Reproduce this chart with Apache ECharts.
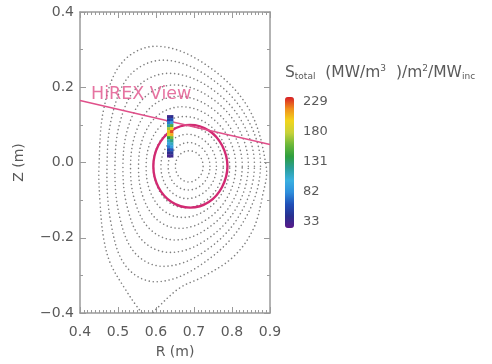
<!DOCTYPE html>
<html>
<head>
<meta charset="utf-8">
<script src="https://cdn.jsdelivr.net/npm/echarts@6/dist/echarts.min.js"></script>
<style>
  html, body { margin: 0; padding: 0; background: #fff; }
  #chart { width: 492px; height: 364px; }
</style>
</head>
<body>
<div id="chart"></div>
<script>
// Axis ranges and colour-bar ticks
const rRange = [0.4, 0.9];
const zRange = [-0.4, 0.4];
const colorbarTicks = [33, 82, 131, 180, 229];
const colorbarRange = [23, 237];

// Closed flux surfaces, inner to outer, as [R, Z] points (m)
const surface2 = [[0.724,-0.010],[0.719,0.011],[0.706,0.026],[0.687,0.031],[0.669,0.026],[0.656,0.011],[0.651,-0.010],[0.656,-0.031],[0.669,-0.046],[0.687,-0.052],[0.705,-0.046],[0.719,-0.031]];
const surface3 = [[0.742,-0.010],[0.734,0.021],[0.714,0.044],[0.686,0.053],[0.659,0.044],[0.639,0.021],[0.632,-0.010],[0.639,-0.042],[0.658,-0.065],[0.685,-0.073],[0.713,-0.065],[0.734,-0.042]];
const surface4 = [[0.759,-0.010],[0.749,0.032],[0.721,0.063],[0.683,0.075],[0.647,0.063],[0.622,0.032],[0.613,-0.010],[0.622,-0.053],[0.647,-0.084],[0.682,-0.096],[0.720,-0.084],[0.749,-0.053]];
const surface5 = [[0.777,-0.010],[0.763,0.044],[0.727,0.083],[0.680,0.098],[0.635,0.083],[0.604,0.044],[0.593,-0.010],[0.604,-0.065],[0.634,-0.106],[0.678,-0.120],[0.725,-0.106],[0.763,-0.065]];
const surface6 = [[0.794,-0.010],[0.776,0.056],[0.732,0.105],[0.674,0.122],[0.622,0.105],[0.586,0.056],[0.574,-0.010],[0.585,-0.078],[0.620,-0.128],[0.671,-0.146],[0.729,-0.128],[0.776,-0.078]];
const surface7 = [[0.810,-0.010],[0.789,0.069],[0.735,0.127],[0.668,0.148],[0.607,0.127],[0.567,0.069],[0.554,-0.010],[0.566,-0.092],[0.604,-0.153],[0.662,-0.175],[0.731,-0.153],[0.788,-0.092]];
const surface8 = [[0.827,-0.010],[0.801,0.083],[0.737,0.151],[0.659,0.176],[0.591,0.151],[0.548,0.083],[0.533,-0.010],[0.546,-0.108],[0.586,-0.179],[0.651,-0.206],[0.730,-0.179],[0.799,-0.108]];
const surface9 = [[0.843,-0.010],[0.813,0.098],[0.737,0.177],[0.648,0.206],[0.574,0.177],[0.528,0.098],[0.513,-0.010],[0.526,-0.125],[0.566,-0.209],[0.637,-0.239],[0.727,-0.209],[0.809,-0.125]];
const surface10 = [[0.859,-0.010],[0.823,0.114],[0.734,0.204],[0.634,0.237],[0.554,0.204],[0.507,0.114],[0.492,-0.010],[0.504,-0.143],[0.545,-0.241],[0.619,-0.276],[0.721,-0.241],[0.818,-0.143]];
const surface11 = [[0.875,-0.010],[0.832,0.131],[0.729,0.234],[0.618,0.272],[0.533,0.234],[0.486,0.131],[0.471,-0.010],[0.482,-0.164],[0.521,-0.276],[0.598,-0.317],[0.712,-0.276],[0.826,-0.164]];

// Separatrix with its two divertor legs, from the X-point round and back
const separatrix = [[0.578,-0.415],[0.553,-0.387],[0.515,-0.330],[0.480,-0.268],[0.462,-0.200],[0.453,-0.110],[0.450,-0.010],[0.464,0.150],[0.511,0.266],[0.599,0.309],[0.722,0.266],[0.840,0.150],[0.890,-0.010],[0.880,-0.090],[0.855,-0.179],[0.803,-0.251],[0.725,-0.303],[0.663,-0.333],[0.603,-0.387],[0.578,-0.415]];

// q = 1 surface
const qOneSurface = [[0.788,-0.010],[0.774,0.045],[0.739,0.085],[0.690,0.100],[0.641,0.085],[0.606,0.045],[0.593,-0.010],[0.606,-0.065],[0.641,-0.105],[0.690,-0.120],[0.739,-0.105],[0.774,-0.065]];

// HiREX sight line end points and label anchor
const hirexView = [[0.40, 0.165], [0.90, 0.048]];
const hirexLabelAt = [0.429, 0.180];

// Emissivity cells: two R columns, Z cell centres, values
const cellR = [0.633, 0.641];
const cellZ = [0.122, 0.114, 0.106, 0.098, 0.090, 0.082, 0.074, 0.066, 0.058, 0.050, 0.042, 0.034, 0.026, 0.018];
const cellValuesA = [35, 50, 75, 120, 170, 205, 190, 140, 110, 95, 75, 55, 40, 30];
const cellValuesB = [40, 60, 90, 150, 200, 229, 210, 160, 125, 110, 90, 65, 45, 35];
const cellDR = 0.008, cellDZ = 0.008;

const rainbow = ['#5a1a8a', '#28308f', '#2050b8', '#2e8fdc', '#3ab0e0', '#2a9e9a',
                 '#2e9e3e', '#6cb83a', '#c8d23a', '#f2d51c', '#f0901c', '#d81e26'];

const FONT = 'DejaVu Sans';
const TEXT = '#5a5a5a';
const FRAME = '#9a9a9a';

const closedSurfaces = [surface2, surface3, surface4, surface5, surface6, surface7,
                        surface8, surface9, surface10, surface11];

const dotted = { stroke: '#808080', lineWidth: 1.6, lineDash: [0.01, 4], lineCap: 'round', fill: 'none' };

function curveSeries(points, style, closed, z) {
  return {
    type: 'custom', coordinateSystem: 'cartesian2d', xAxisIndex: 0, yAxisIndex: 0,
    clip: true, silent: true, z: z,
    data: points, encode: { x: 0, y: 1 },
    renderItem: function (params, api) {
      if (params.dataIndex !== 0) return null;
      return {
        type: closed ? 'polygon' : 'polyline',
        shape: { points: points.map(function (p) { return api.coord(p); }), smooth: 0.36 },
        style: style
      };
    }
  };
}

const cells = [];
cellZ.forEach(function (z, i) {
  cells.push([cellR[0], z, cellValuesA[i]]);
  cells.push([cellR[1], z, cellValuesB[i]]);
});

const series = [];
closedSurfaces.forEach(function (s) { series.push(curveSeries(s, dotted, true, 2)); });
series.push(curveSeries(separatrix, dotted, false, 2));
series.push(curveSeries(qOneSurface, { stroke: '#d22a72', lineWidth: 2.4, fill: 'none' }, true, 4));
series.push({
  type: 'line', xAxisIndex: 0, yAxisIndex: 0, data: hirexView, symbol: 'none', z: 4,
  lineStyle: { color: '#e0508a', width: 1.5 }, silent: true
});
series.push({
  type: 'scatter', xAxisIndex: 0, yAxisIndex: 0, data: [hirexLabelAt], symbolSize: 0, z: 5,
  label: { show: true, position: 'right', distance: 0, formatter: 'HiREX View',
           color: '#e0508a', fontSize: 17.5, fontFamily: FONT }, silent: true
});
const cellSeriesIndex = series.length;
series.push({
  type: 'custom', coordinateSystem: 'cartesian2d', xAxisIndex: 0, yAxisIndex: 0, z: 6,
  data: cells, encode: { x: 0, y: 1 }, silent: true,
  renderItem: function (params, api) {
    const c = api.coord([api.value(0) - cellDR / 2, api.value(1) + cellDZ / 2]);
    const s = api.size([cellDR, cellDZ]);
    return { type: 'rect', shape: { x: c[0], y: c[1], width: s[0] + 0.3, height: s[1] + 0.3 },
             style: { fill: api.visual('color') } };
  }
});

const tickFmt = function (v) { return v.toFixed(1).replace('-', '\u2212'); };

const frameAxis = {
  axisLine: { show: true, onZero: false, lineStyle: { color: FRAME, width: 1.5 } },
  splitLine: { show: false }
};

const option = {
  animation: false,
  backgroundColor: '#fff',
  title: {
    left: 285, top: 64, padding: 0,
    text: '{m|S}{sub|total}{m|  (MW/m}{sup|3}{m|  )/m}{sup|2}{m|/MW}{sub|inc}',
    textStyle: {
      fontWeight: 'normal',
      rich: {
        m: { fontSize: 15.5, fontFamily: FONT, fontWeight: 'normal', color: TEXT, lineHeight: 17 },
        sub: { fontSize: 9, fontFamily: FONT, fontWeight: 'normal', color: TEXT, lineHeight: 10, verticalAlign: 'bottom' },
        sup: { fontSize: 9, fontFamily: FONT, fontWeight: 'normal', color: TEXT, lineHeight: 10, verticalAlign: 'top' }
      }
    }
  },
  grid: [
    { left: 80, right: 222, top: 12, bottom: 51 },
    { left: 285, top: 97, width: 9, height: 131 }
  ],
  xAxis: [
    Object.assign({}, frameAxis, {
      type: 'value', gridIndex: 0, position: 'bottom', min: rRange[0], max: rRange[1], interval: 0.1,
      name: 'R (m)', nameLocation: 'middle', nameGap: 32,
      nameTextStyle: { fontSize: 14, fontFamily: FONT, color: TEXT },
      axisTick: { show: true, inside: true, length: 6, lineStyle: { color: FRAME } },
      minorTick: { show: true, splitNumber: 10, length: 3, lineStyle: { color: FRAME } },
      axisLabel: { fontSize: 14, fontFamily: FONT, color: TEXT, margin: 12, formatter: tickFmt }
    }),
    Object.assign({}, frameAxis, {
      type: 'value', gridIndex: 0, position: 'top', min: rRange[0], max: rRange[1], interval: 0.1,
      axisTick: { show: true, inside: true, length: 6, lineStyle: { color: FRAME } },
      minorTick: { show: true, splitNumber: 10, length: 3, lineStyle: { color: FRAME } },
      axisLabel: { show: false }
    }),
    { type: 'value', gridIndex: 1, show: false, min: 0, max: 1 }
  ],
  yAxis: [
    Object.assign({}, frameAxis, {
      type: 'value', gridIndex: 0, position: 'left', min: zRange[0], max: zRange[1], interval: 0.2,
      name: 'Z (m)', nameLocation: 'middle', nameGap: 54,
      nameTextStyle: { fontSize: 14, fontFamily: FONT, color: TEXT },
      axisTick: { show: true, inside: true, length: 6, lineStyle: { color: FRAME } },
      minorTick: { show: true, splitNumber: 2, length: 3, lineStyle: { color: FRAME } },
      axisLabel: { fontSize: 14, fontFamily: FONT, color: TEXT, margin: 6, formatter: tickFmt }
    }),
    Object.assign({}, frameAxis, {
      type: 'value', gridIndex: 0, position: 'right', min: zRange[0], max: zRange[1], interval: 0.2,
      axisTick: { show: true, inside: true, length: 6, lineStyle: { color: FRAME } },
      minorTick: { show: true, splitNumber: 2, length: 3, lineStyle: { color: FRAME } },
      axisLabel: { show: false }
    }),
    {
      type: 'value', gridIndex: 1, position: 'right', min: colorbarRange[0], max: colorbarRange[1],
      axisLine: { show: false }, axisTick: { show: false }, splitLine: { show: false },
      axisLabel: { show: true, customValues: colorbarTicks, margin: 9,
                   fontSize: 13, fontFamily: FONT, color: TEXT }
    }
  ],
  visualMap: {
    type: 'continuous', seriesIndex: cellSeriesIndex, dimension: 2,
    min: colorbarRange[0], max: colorbarRange[1],
    orient: 'vertical', left: 285, top: 97, padding: 0,
    itemWidth: 9, itemHeight: 131, calculable: false, text: null, showLabel: false,
    inRange: { color: rainbow }
  },
  series: series
};

const chart = echarts.init(document.getElementById('chart'), null, { renderer: 'canvas' });
chart.setOption(option);
</script>
</body>
</html>
